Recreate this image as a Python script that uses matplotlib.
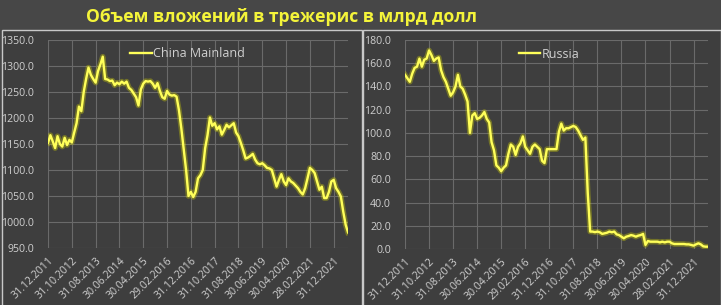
import numpy as np
import matplotlib
matplotlib.use("Agg")
import matplotlib.pyplot as plt
from matplotlib.patches import Rectangle

plt.rcParams["font.family"] = ["Open Sans", "DejaVu Sans"]

tick_labels = ["31.12.2011", "31.10.2012", "31.08.2013", "30.06.2014", "30.04.2015",
               "29.02.2016", "31.12.2016", "31.10.2017", "31.08.2018", "30.06.2019",
               "30.04.2020", "28.02.2021", "31.12.2021"]

# monthly, Dec 2011 .. Jun 2022, bn USD
china = [1152, 1167, 1155, 1142, 1165, 1150, 1145, 1162, 1148, 1158,
         1153, 1172, 1190, 1222, 1213, 1250, 1275, 1297, 1283, 1275,
         1268, 1290, 1303, 1318, 1275, 1274, 1271, 1272, 1263, 1268,
         1265, 1270, 1266, 1270, 1258, 1254, 1247, 1240, 1224, 1255,
         1266, 1271, 1270, 1271, 1266, 1258, 1267, 1252, 1240, 1237,
         1252, 1245, 1243, 1244, 1241, 1215, 1180, 1140, 1100, 1050,
         1058, 1048, 1058, 1084, 1090, 1100, 1142, 1167, 1201, 1185,
         1190, 1178, 1184, 1168, 1177, 1187, 1182, 1186, 1190, 1172,
         1165, 1152, 1138, 1122, 1124, 1127, 1131, 1120, 1113, 1111,
         1113, 1109, 1104, 1103, 1100, 1084, 1068, 1081, 1092, 1078,
         1071, 1084, 1078, 1075, 1070, 1065, 1058, 1053, 1065, 1084,
         1104, 1100, 1094, 1078, 1062, 1068, 1046, 1046, 1058, 1078,
         1081, 1065, 1058, 1049, 1020, 995, 980]

russia = [150, 147, 144, 151, 156, 157, 164, 157, 163, 164,
          171, 167, 162, 164, 165, 154, 148, 144, 138, 132,
          135, 140, 150, 140, 138, 133, 127, 100, 115, 117,
          112, 113, 115, 118, 112, 109, 92, 85, 72, 70,
          67, 70, 72, 82, 90, 88, 81, 88, 91, 97,
          88, 85, 82, 88, 90, 88, 86, 76, 74, 86,
          86, 86, 86, 86, 101, 108, 102, 104, 104, 105,
          106, 105, 102, 98, 94, 96, 48, 15, 15, 14.5,
          15, 14.4, 13, 13.5, 14, 15, 14.4, 15, 12.6, 12,
          10.6, 9.2, 10.6, 11.2, 12, 11.5, 10.6, 11.5, 12, 13,
          3.5, 6.9, 6.3, 6.3, 6.3, 6.3, 5.7, 6.3, 5.7, 6.3,
          6.3, 4.9, 4.3, 4.3, 4.3, 4.3, 4.3, 4, 4, 3.5,
          2.9, 4, 4.9, 4, 2.3, 2, 2]

fig_bg = "#474747"
box_bg = "#3e3e3e"
txt = "#d0d0d0"
grid_c = "#6a6a6a"

fig = plt.figure(figsize=(7.21, 3.05), dpi=100, facecolor=fig_bg)
W, H = 721, 305

# panel boxes
for x0, x1 in [(2, 362), (363, 721)]:
    fig.add_artist(Rectangle((x0 / W, -0.02), (x1 - x0) / W, (H - 30) / H + 0.02,
                             transform=fig.transFigure, facecolor=box_bg,
                             edgecolor="#c8c8c8", lw=1.0, zorder=0))

fig.text(281 / W, 1 - 17 / H, "Объем вложений в трежерис в млрд долл",
         color="#f4f43a", fontsize=12.6, fontweight="bold", ha="center", va="center")

panels = [
    (china, "China Mainland", np.arange(950, 1351, 50), (48, 348, 40, 248), 0.465),
    (russia, "Russia", np.arange(0, 181, 20), (405, 708, 40, 249), 0.475),
]

for vals, name, yt, (l, r, t, b), lx in panels:
    ax = fig.add_axes([l / W, 1 - b / H, (r - l) / W, (b - t) / H])
    ax.set_facecolor("none")
    x = np.arange(len(vals))
    ax.plot(x, vals, color="#d8d800", lw=4.0, alpha=0.35, solid_joinstyle="round")
    ax.plot(x, vals, color="#ffff5a", lw=1.7, label=name, solid_joinstyle="round")
    ax.set_xlim(0, len(vals) - 1)
    ax.set_ylim(yt[0], yt[-1])
    ax.set_yticks(yt)
    ax.set_yticklabels([f"{v:.1f}" for v in yt])
    ax.set_xticks(np.arange(0, len(tick_labels) * 10, 10))
    ax.set_xticklabels(tick_labels, rotation=45, ha="right", va="top",
                       rotation_mode="anchor")
    ax.tick_params(axis="x", length=0, pad=5, labelsize=7.6, labelcolor=txt)
    ax.tick_params(axis="y", length=0, pad=10, labelsize=7.6, labelcolor=txt)
    ax.grid(True, color=grid_c, lw=0.8)
    ax.set_axisbelow(True)
    for s in ax.spines.values():
        s.set_visible(False)
    leg = ax.legend(loc="center", bbox_to_anchor=(lx, 0.933), frameon=False,
                    handlelength=1.7, handletextpad=0.1, fontsize=9, labelcolor=txt)

fig.savefig("out.png", dpi=100, facecolor=fig_bg)
